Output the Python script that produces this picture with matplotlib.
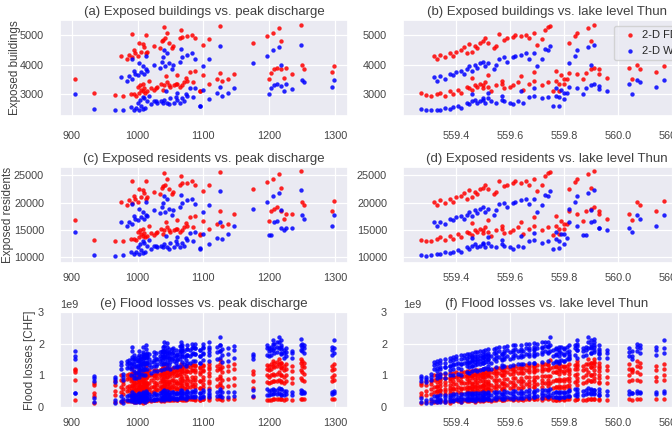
import matplotlib
matplotlib.use("Agg")
import matplotlib.pyplot as plt
import seaborn as sns
import numpy as np

# one entry per flood event
peak_q = [933, 966, 978, 995, 1002, 997, 1008, 990, 1005, 1012,
          1000, 1020, 1025, 1003, 1030, 1035, 1010, 1040, 1045, 1050,
          1015, 1055, 1060, 1028, 1065, 1048, 1070, 1038, 1058, 1075,
          1068, 1085, 1095, 1008, 975, 984, 987, 992, 996, 1000,
          1005, 994, 1010, 1013, 1008, 1015, 1025, 1034, 1002, 1037,
          1042, 1047, 1052, 1054, 992, 1039, 1065, 1068, 1013, 1075,
          1083, 1087, 1045, 1100, 1108, 1040, 1126, 1066, 1176, 1197,
          1206, 1215, 1218, 1249, 905, 1088, 1095, 1100, 1108, 1120,
          1126, 1128, 1138, 1146, 1200, 1203, 1207, 1212, 1218, 1223,
          1226, 1235, 1250, 1253, 1295, 1299, 1073, 1060, 1018, 1043,
          1080]

lake_level = [559.27, 559.29, 559.31, 559.33, 559.34, 559.36, 559.38, 559.39, 559.41, 559.42,
              559.44, 559.45, 559.46, 559.47, 559.48, 559.49, 559.50, 559.50, 559.51, 559.52,
              559.53, 559.55, 559.57, 559.58, 559.60, 559.61, 559.63, 559.65, 559.67, 559.69,
              559.72, 559.74, 559.76, 559.78, 559.32, 559.33, 559.34, 559.36, 559.38, 559.39,
              559.40, 559.42, 559.43, 559.44, 559.45, 559.46, 559.47, 559.48, 559.49, 559.50,
              559.51, 559.52, 559.54, 559.55, 559.56, 559.58, 559.59, 559.61, 559.62, 559.64,
              559.66, 559.67, 559.69, 559.70, 559.72, 559.74, 559.75, 559.73, 559.82, 559.84,
              559.85, 559.89, 559.90, 559.91, 560.05, 559.77, 559.78, 559.79, 559.80, 559.81,
              559.82, 559.77, 559.80, 559.85, 559.87, 559.88, 559.90, 559.91, 559.93, 559.96,
              560.04, 559.93, 560.07, 560.08, 560.14, 560.17, 559.46, 559.52, 559.57, 559.64,
              559.69]

bld_fd = [3030, 2980, 2920, 3000, 3050, 2950, 3100, 3000, 3150, 3050,
          3250, 3200, 3150, 3300, 3250, 3350, 3200, 3300, 3400, 3250,
          3100, 3300, 3350, 3200, 3250, 3300, 3400, 3150, 3350, 3450,
          3300, 3400, 3110, 3350, 4290, 4180, 4350, 4250, 4400, 4300,
          4450, 4500, 4600, 4400, 4700, 4450, 4630, 4570, 4750, 4800,
          4910, 4740, 4570, 4650, 5040, 4850, 4900, 4950, 5020, 4970,
          5020, 4900, 5100, 4690, 4880, 5300, 5330, 5190, 4760, 4990,
          5100, 5260, 4800, 5360, 3500, 3790, 3110, 3640, 3340, 3530,
          3730, 3450, 3500, 3670, 3500, 3730, 3840, 3900, 3840, 3560,
          3900, 3670, 3980, 3870, 3750, 3950, 3540, 3650, 3450, 3600,
          3750]

bld_ws = [2490, 2460, 2440, 2470, 2450, 2520, 2480, 2550, 2600, 2530,
          2700, 2650, 2750, 2800, 2700, 2750, 2850, 2800, 2700, 2850,
          2750, 2700, 2800, 2750, 2700, 2650, 2750, 2700, 2900, 2950,
          2850, 2900, 2600, 2900, 3580, 3450, 3600, 3500, 3700, 3650,
          3750, 3800, 3700, 3850, 3950, 3800, 4000, 3900, 4050, 4100,
          3950, 4050, 3850, 4000, 4200, 4250, 4100, 4250, 4300, 4350,
          4400, 4200, 4400, 3950, 4180, 4500, 4630, 4550, 4050, 4300,
          4500, 4600, 4000, 4670, 3000, 3220, 2600, 3150, 2830, 3020,
          3250, 2940, 3020, 3220, 3000, 3200, 3300, 3350, 3280, 3100,
          3350, 3170, 3470, 3400, 3250, 3480, 3000, 3050, 2950, 3100,
          3200]

res_fd = [13100, 13040, 12900, 13350, 13700, 13150, 13900, 13400, 14200, 13650,
          14700, 14450, 14150, 14950, 14700, 15200, 14400, 14950, 15500, 14700,
          13900, 14950, 15200, 14450, 14700, 14950, 15500, 14200, 15200, 15750,
          14950, 15450, 14000, 15200, 20100, 19500, 20400, 19900, 20700, 20150,
          20950, 21200, 21700, 20700, 22250, 20950, 21900, 21550, 22500, 22750,
          23300, 22450, 21550, 21950, 24000, 23000, 23300, 23550, 23900, 23650,
          23900, 23300, 24300, 22200, 23150, 25350, 25600, 24800, 22550, 23750,
          24300, 25150, 22750, 25800, 16900, 17500, 14250, 16700, 15150, 16150,
          18400, 15700, 16100, 17900, 16600, 18400, 18900, 19100, 18500, 17000,
          18000, 18000, 20100, 19500, 18500, 20200, 16300, 16800, 15700, 16500,
          17300]

res_ws = [10500, 10300, 10450, 10650, 10550, 10900, 10700, 11050, 11300, 10950,
          11850, 11600, 12100, 12350, 11850, 12100, 12600, 12350, 11850, 12600,
          12100, 11850, 12350, 12100, 11850, 11600, 12100, 11850, 12900, 13150,
          12600, 12900, 11550, 12900, 16400, 15750, 16500, 16000, 17050, 16800,
          17300, 17550, 17050, 17800, 18350, 17550, 18600, 18100, 18850, 19100,
          18350, 18850, 17800, 18600, 19650, 19900, 19100, 19900, 20150, 20400,
          20700, 19650, 20700, 18350, 19550, 21200, 22150, 21450, 18850, 20150,
          21200, 21700, 18600, 22300, 14550, 14550, 11700, 14200, 12500, 13500,
          16500, 13400, 14300, 15700, 14000, 14000, 16500, 16700, 15400, 15000,
          15300, 15300, 17700, 17000, 15700, 17800, 13450, 13700, 13150, 13900,
          14400]

# flood losses in 1e9 CHF, five damage estimates per event
loss_fd = [[0.12, 0.35, 0.45, 0.68, 0.75], [0.15, 0.38, 0.50, 0.70, 0.80],
           [0.17, 0.40, 0.55, 0.72, 0.82], [0.14, 0.36, 0.50, 0.66, 0.78],
           [0.18, 0.42, 0.52, 0.75, 0.86], [0.16, 0.40, 0.55, 0.78, 0.90],
           [0.13, 0.44, 0.58, 0.80, 0.92], [0.20, 0.45, 0.60, 0.82, 0.95],
           [0.17, 0.46, 0.62, 0.85, 0.98], [0.15, 0.43, 0.60, 0.83, 0.96],
           [0.19, 0.48, 0.64, 0.88, 1.00], [0.18, 0.47, 0.62, 0.86, 0.99],
           [0.20, 0.50, 0.65, 0.90, 1.02], [0.16, 0.49, 0.66, 0.88, 1.05],
           [0.21, 0.52, 0.68, 0.92, 1.06], [0.19, 0.50, 0.67, 0.90, 1.04],
           [0.20, 0.53, 0.70, 0.94, 1.08], [0.18, 0.51, 0.69, 0.93, 1.07],
           [0.22, 0.54, 0.72, 0.95, 1.10], [0.20, 0.55, 0.71, 0.96, 1.12],
           [0.19, 0.52, 0.70, 0.95, 1.10], [0.21, 0.56, 0.74, 0.98, 1.13],
           [0.22, 0.57, 0.75, 1.00, 1.15], [0.20, 0.56, 0.76, 1.01, 1.16],
           [0.23, 0.58, 0.78, 1.03, 1.18], [0.21, 0.59, 0.78, 1.04, 1.20],
           [0.22, 0.60, 0.80, 1.06, 1.22], [0.21, 0.61, 0.80, 1.08, 1.24],
           [0.23, 0.62, 0.82, 1.10, 1.26], [0.24, 0.63, 0.84, 1.12, 1.28],
           [0.22, 0.64, 0.85, 1.13, 1.30], [0.24, 0.65, 0.86, 1.15, 1.32],
           [0.20, 0.60, 0.82, 1.10, 1.25], [0.23, 0.66, 0.88, 1.16, 1.34],
           [0.16, 0.48, 0.62, 0.86, 1.00], [0.17, 0.50, 0.64, 0.88, 1.02],
           [0.18, 0.52, 0.66, 0.90, 1.04], [0.17, 0.50, 0.68, 0.90, 1.05],
           [0.19, 0.54, 0.70, 0.92, 1.06], [0.18, 0.55, 0.71, 0.93, 1.07],
           [0.20, 0.56, 0.72, 0.94, 1.09], [0.19, 0.57, 0.74, 0.95, 1.10],
           [0.21, 0.58, 0.75, 0.97, 1.11], [0.20, 0.57, 0.74, 0.96, 1.12],
           [0.22, 0.60, 0.77, 0.98, 1.13], [0.21, 0.59, 0.76, 0.99, 1.14],
           [0.22, 0.61, 0.78, 1.00, 1.15], [0.21, 0.60, 0.79, 1.01, 1.16],
           [0.23, 0.62, 0.80, 1.02, 1.17], [0.22, 0.63, 0.81, 1.03, 1.18],
           [0.24, 0.64, 0.82, 1.04, 1.19], [0.23, 0.63, 0.83, 1.05, 1.20],
           [0.22, 0.64, 0.84, 1.06, 1.21], [0.24, 0.65, 0.85, 1.07, 1.22],
           [0.25, 0.66, 0.86, 1.08, 1.23], [0.24, 0.67, 0.87, 1.09, 1.25],
           [0.25, 0.68, 0.88, 1.10, 1.26], [0.24, 0.69, 0.90, 1.12, 1.27],
           [0.26, 0.70, 0.91, 1.13, 1.29], [0.25, 0.71, 0.92, 1.14, 1.30],
           [0.26, 0.72, 0.93, 1.16, 1.31], [0.25, 0.71, 0.94, 1.17, 1.32],
           [0.27, 0.73, 0.95, 1.18, 1.33], [0.26, 0.72, 0.94, 1.16, 1.31],
           [0.27, 0.74, 0.96, 1.19, 1.34], [0.28, 0.75, 0.97, 1.20, 1.36],
           [0.28, 0.76, 0.98, 1.22, 1.48], [0.27, 0.75, 0.97, 1.20, 1.35],
           [0.30, 0.60, 0.80, 1.05, 1.12], [0.22, 0.78, 1.00, 1.20, 1.32],
           [0.24, 0.82, 1.05, 1.30, 1.45], [0.25, 0.85, 1.10, 1.35, 1.50],
           [0.23, 0.80, 1.02, 1.25, 1.40], [0.25, 0.90, 1.15, 1.40, 1.50],
           [0.20, 0.85, 1.10, 1.15, 1.20], [0.22, 0.62, 0.85, 1.10, 1.28],
           [0.20, 0.58, 0.80, 1.05, 1.22], [0.23, 0.64, 0.86, 1.12, 1.30],
           [0.21, 0.60, 0.83, 1.08, 1.25], [0.24, 0.66, 0.88, 1.15, 1.30],
           [0.25, 0.68, 0.90, 1.18, 1.35], [0.22, 0.63, 0.85, 1.10, 1.26],
           [0.23, 0.65, 0.87, 1.12, 1.28], [0.25, 0.70, 0.90, 1.20, 1.36],
           [0.20, 0.75, 0.95, 1.15, 1.30], [0.22, 0.78, 1.00, 1.20, 1.35],
           [0.24, 0.80, 1.02, 1.25, 1.40], [0.23, 0.82, 1.05, 1.28, 1.42],
           [0.25, 0.78, 1.00, 1.22, 1.38], [0.22, 0.75, 0.95, 1.15, 1.30],
           [0.24, 0.80, 1.00, 1.20, 1.35], [0.22, 0.76, 0.92, 1.12, 1.28],
           [0.26, 0.85, 1.10, 1.30, 1.45], [0.25, 0.82, 1.05, 1.25, 1.40],
           [0.24, 0.80, 0.95, 1.15, 1.30], [0.26, 0.85, 1.00, 1.20, 1.35],
           [0.20, 0.55, 0.72, 0.98, 1.12], [0.22, 0.57, 0.75, 1.00, 1.15],
           [0.21, 0.56, 0.76, 1.02, 1.17], [0.23, 0.60, 0.80, 1.06, 1.22],
           [0.24, 0.62, 0.83, 1.10, 1.26]]

loss_ws = [[0.15, 0.28, 0.82, 0.90, 0.96], [0.12, 0.22, 0.78, 0.88, 0.95],
           [0.13, 0.25, 0.85, 0.95, 1.05], [0.14, 0.30, 0.90, 1.00, 1.12],
           [0.16, 0.26, 0.95, 1.05, 1.20], [0.15, 0.32, 0.92, 1.08, 1.25],
           [0.18, 0.30, 1.00, 1.15, 1.30], [0.17, 0.34, 1.02, 1.20, 1.35],
           [0.20, 0.32, 1.05, 1.22, 1.40], [0.16, 0.30, 1.00, 1.18, 1.36],
           [0.20, 0.35, 1.10, 1.28, 1.45], [0.22, 0.33, 1.08, 1.25, 1.42],
           [0.21, 0.36, 1.12, 1.30, 1.48], [0.19, 0.34, 1.15, 1.32, 1.50],
           [0.23, 0.38, 1.14, 1.34, 1.52], [0.20, 0.36, 1.16, 1.35, 1.55],
           [0.24, 0.37, 1.18, 1.38, 1.56], [0.22, 0.35, 1.20, 1.40, 1.58],
           [0.25, 0.39, 1.22, 1.42, 1.60], [0.23, 0.38, 1.20, 1.43, 1.62],
           [0.21, 0.36, 1.18, 1.40, 1.60], [0.26, 0.40, 1.25, 1.45, 1.65],
           [0.25, 0.41, 1.27, 1.48, 1.68], [0.24, 0.40, 1.28, 1.50, 1.70],
           [0.27, 0.42, 1.30, 1.52, 1.72], [0.26, 0.41, 1.32, 1.55, 1.74],
           [0.28, 0.43, 1.35, 1.57, 1.76], [0.27, 0.44, 1.36, 1.60, 1.78],
           [0.29, 0.45, 1.38, 1.62, 1.80], [0.30, 0.46, 1.40, 1.65, 1.83],
           [0.29, 0.45, 1.42, 1.67, 1.86], [0.31, 0.47, 1.45, 1.70, 1.88],
           [0.30, 0.44, 1.40, 1.60, 1.80], [0.32, 0.48, 1.46, 1.72, 1.90],
           [0.18, 0.33, 1.20, 1.32, 1.42], [0.20, 0.35, 1.22, 1.35, 1.45],
           [0.21, 0.36, 1.25, 1.38, 1.48], [0.22, 0.37, 1.27, 1.40, 1.50],
           [0.23, 0.38, 1.30, 1.45, 1.55], [0.22, 0.39, 1.32, 1.47, 1.58],
           [0.24, 0.40, 1.34, 1.50, 1.60], [0.25, 0.41, 1.36, 1.52, 1.63],
           [0.24, 0.40, 1.38, 1.54, 1.65], [0.26, 0.42, 1.37, 1.55, 1.66],
           [0.25, 0.42, 1.40, 1.57, 1.68], [0.27, 0.43, 1.41, 1.58, 1.70],
           [0.26, 0.44, 1.43, 1.60, 1.72], [0.28, 0.43, 1.44, 1.62, 1.74],
           [0.27, 0.45, 1.46, 1.64, 1.75], [0.29, 0.46, 1.48, 1.66, 1.78],
           [0.28, 0.45, 1.50, 1.68, 1.80], [0.30, 0.46, 1.51, 1.70, 1.82],
           [0.29, 0.47, 1.52, 1.71, 1.84], [0.31, 0.48, 1.54, 1.73, 1.86],
           [0.30, 0.47, 1.56, 1.75, 1.88], [0.32, 0.49, 1.58, 1.77, 1.90],
           [0.31, 0.48, 1.60, 1.79, 1.92], [0.33, 0.50, 1.62, 1.80, 1.94],
           [0.32, 0.49, 1.63, 1.82, 1.95], [0.34, 0.51, 1.65, 1.84, 1.97],
           [0.33, 0.50, 1.67, 1.86, 1.98], [0.35, 0.52, 1.68, 1.87, 2.00],
           [0.34, 0.51, 1.70, 1.89, 2.02], [0.35, 0.53, 1.66, 1.85, 1.98],
           [0.36, 0.52, 1.72, 1.90, 2.04], [0.35, 0.54, 1.74, 1.92, 2.06],
           [0.37, 0.55, 1.76, 1.95, 2.20], [0.36, 0.54, 1.75, 1.93, 2.05],
           [0.35, 0.52, 1.50, 1.60, 1.68], [0.38, 0.55, 1.65, 1.85, 1.95],
           [0.40, 0.56, 1.80, 2.00, 2.12], [0.42, 0.58, 1.85, 2.05, 2.20],
           [0.40, 0.55, 1.70, 1.90, 2.10], [0.45, 0.52, 1.80, 1.95, 2.15],
           [0.42, 0.45, 1.50, 1.60, 1.75], [0.30, 0.46, 1.45, 1.68, 1.85],
           [0.28, 0.44, 1.40, 1.62, 1.80], [0.32, 0.47, 1.48, 1.70, 1.88],
           [0.30, 0.45, 1.44, 1.65, 1.82], [0.33, 0.48, 1.50, 1.72, 1.90],
           [0.34, 0.50, 1.55, 1.78, 1.95], [0.31, 0.46, 1.42, 1.65, 1.84],
           [0.32, 0.47, 1.45, 1.68, 1.86], [0.35, 0.48, 1.55, 1.80, 1.92],
           [0.38, 0.50, 1.60, 1.75, 1.85], [0.40, 0.52, 1.65, 1.80, 1.90],
           [0.42, 0.54, 1.70, 1.85, 2.00], [0.40, 0.53, 1.72, 1.88, 2.05],
           [0.38, 0.55, 1.68, 1.82, 1.95], [0.36, 0.50, 1.55, 1.70, 1.80],
           [0.40, 0.50, 1.60, 1.72, 1.85], [0.38, 0.48, 1.55, 1.70, 1.78],
           [0.45, 0.50, 1.75, 1.90, 2.00], [0.43, 0.48, 1.70, 1.85, 1.95],
           [0.40, 0.48, 1.65, 1.80, 1.90], [0.45, 0.50, 1.70, 1.85, 2.10],
           [0.25, 0.40, 1.28, 1.48, 1.62], [0.26, 0.42, 1.30, 1.50, 1.65],
           [0.27, 0.41, 1.32, 1.52, 1.68], [0.29, 0.44, 1.36, 1.58, 1.75],
           [0.30, 0.45, 1.40, 1.62, 1.80]]

titles = ["(a) Exposed buildings vs. peak discharge",
          "(b) Exposed buildings vs. lake level Thun",
          "(c) Exposed residents vs. peak discharge",
          "(d) Exposed residents vs. lake level Thun",
          "(e) Flood losses vs. peak discharge",
          "(f) Flood losses vs. lake level Thun"]
ylabels = ["Exposed buildings", "Exposed residents", "Flood losses [CHF]"]
labels = ["2-D FD", "2-D WS"]

sns.set_theme(style="darkgrid")
plt.rcParams['font.family'] = ['Liberation Sans', 'DejaVu Sans']
plt.rcParams['grid.linewidth'] = 0.9

fig = plt.figure(figsize=(6.72, 4.28), dpi=100)
w, h = 0.4286, 0.2243
lefts = [0.0893, 0.5997]
bottoms = [0.7290, 0.3855, 0.0467]
xpads = [5, 1.5, 1.5]
ylabel_x = [-0.135, -0.16, -0.082]

xs = [np.array(peak_q), np.array(lake_level)]
ys = [(bld_fd, bld_ws), (res_fd, res_ws)]
ylims = [(2250, 5530), (8950, 26500), (-0.04e9, 3.0e9)]
yticks = [[3000, 4000, 5000], [10000, 15000, 20000, 25000], [0, 1e9, 2e9, 3e9]]
xlims = [(882, 1320), (559.205, 560.27)]
xticks = [[900, 1000, 1100, 1200, 1300], [559.4, 559.6, 559.8, 560.0, 560.2]]

k = 0
for r in range(3):
    for c in range(2):
        ax = fig.add_axes([lefts[c], bottoms[r], w, h])
        x = xs[c]
        if r < 2:
            ax.scatter(x, ys[r][0], s=10, color='red', alpha=0.85, linewidths=0, label=labels[0])
            ax.scatter(x, ys[r][1], s=10, color='blue', alpha=0.85, linewidths=0, label=labels[1])
        else:
            xr = np.repeat(x, 5)
            ax.scatter(xr, np.ravel(loss_fd) * 1e9, s=10, color='red', alpha=0.85, linewidths=0)
            ax.scatter(xr, np.ravel(loss_ws) * 1e9, s=10, color='blue', alpha=0.85, linewidths=0)
        ax.set_xlim(*xlims[c])
        ax.set_xticks(xticks[c])
        ax.set_ylim(*ylims[r])
        ax.set_yticks(yticks[r])
        ax.tick_params(labelsize=7.8, colors='#444444')
        ax.tick_params(axis='y', pad=5.5)
        ax.tick_params(axis='x', pad=xpads[r])
        ax.yaxis.offsetText.set_fontsize(7.8)
        ax.yaxis.offsetText.set_color('#444444')
        ax.set_title(titles[k], fontsize=9.5, pad=3.5, color='#404040')
        if c == 0:
            ax.set_ylabel(ylabels[r], fontsize=8.4, color='#404040')
            ax.yaxis.set_label_coords(ylabel_x[r], 0.5)
        if r == 0 and c == 1:
            ax.legend(loc='upper right', fontsize=8, handletextpad=0.1)
        k += 1

fig.savefig("out.png", dpi=100)
